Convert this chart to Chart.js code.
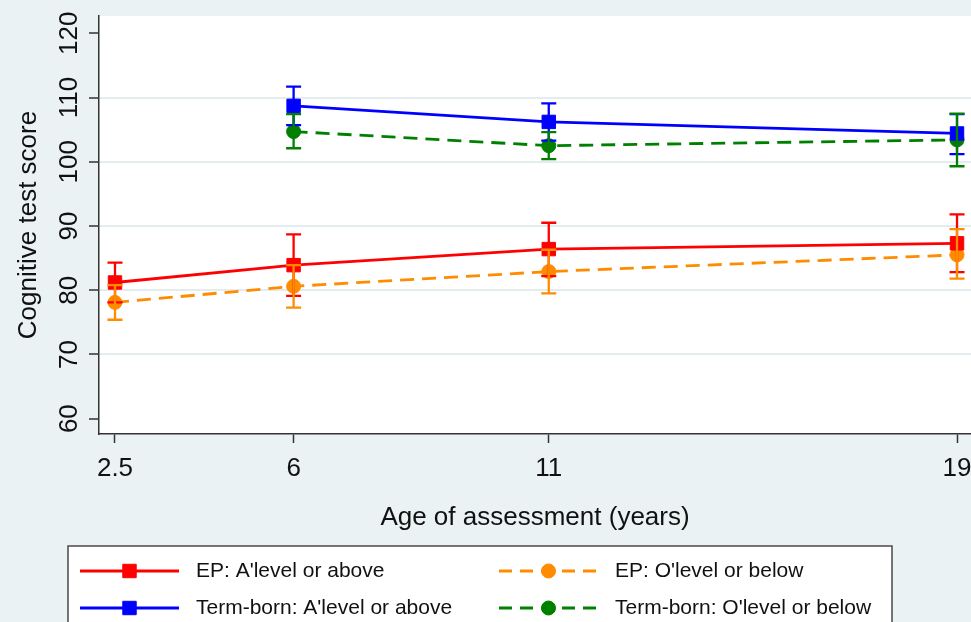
<!DOCTYPE html>
<html>
<head>
<meta charset="utf-8">
<script src="https://cdn.jsdelivr.net/npm/chart.js@4.4.1/dist/chart.umd.min.js"></script>
<style>
  html, body { margin: 0; padding: 0; background: #eaf2f3; }
  canvas { display: block; }
</style>
</head>
<body>
<canvas id="chart" width="971" height="622"></canvas>
<script>
// Assessment ages (years) and axis ticks
const ages = [2.5, 6, 11, 19];
const xTickValues = [2.5, 6, 11, 19];
const xTickLabels = ['2.5', '6', '11', '19'];
const yTickValues = [60, 70, 80, 90, 100, 110, 120];

// Series names
const seriesLabels = [
  "EP: A'level or above",
  "EP: O'level or below",
  "Term-born: A'level or above",
  "Term-born: O'level or below"
];

// Mean cognitive score with 95% interval, per age (null = not assessed)
const epAbove      = [81.2, 83.9, 86.4, 87.3];
const epAboveLow   = [78.1, 79.1, 82.2, 82.8];
const epAboveHigh  = [84.3, 88.7, 90.5, 91.8];

const epBelow      = [78.1, 80.6, 82.9, 85.5];
const epBelowLow   = [75.4, 77.3, 79.5, 81.8];
const epBelowHigh  = [80.8, 83.9, 86.3, 89.5];

const termAbove     = [null, 108.7, 106.2, 104.4];
const termAboveLow  = [null, 105.7, 103.3, 101.2];
const termAboveHigh = [null, 111.7, 109.1, 107.4];

const termBelow     = [null, 104.7, 102.5, 103.4];
const termBelowLow  = [null, 102.1, 100.4, 99.3];
const termBelowHigh = [null, 107.4, 104.6, 107.5];

const FONT = '"Liberation Sans", Arial, sans-serif';

function points(mean, low, high) {
  const out = [];
  ages.forEach((a, i) => {
    if (mean[i] !== null) out.push({ x: a, y: mean[i], lo: low[i], hi: high[i] });
  });
  return out;
}

function series(label, mean, low, high, color, dash, style, radius) {
  return {
    label,
    data: points(mean, low, high),
    borderColor: color,
    backgroundColor: color,
    borderWidth: 2.8,
    borderDash: dash,
    pointStyle: style,
    pointRadius: radius,
    pointHoverRadius: radius,
    pointBackgroundColor: color,
    pointBorderColor: color,
    pointBorderWidth: 1,
    tension: 0,
    fill: false
  };
}

const datasets = [
  series(seriesLabels[0], epAbove, epAboveLow, epAboveHigh, '#ff0000', [], 'rect', 9.5),
  series(seriesLabels[1], epBelow, epBelowLow, epBelowHigh, '#ff8c00', [14, 8], 'circle', 7),
  series(seriesLabels[2], termAbove, termAboveLow, termAboveHigh, '#0000ff', [], 'rect', 9.5),
  series(seriesLabels[3], termBelow, termBelowLow, termBelowHigh, '#008000', [14, 8], 'circle', 7)
];

// Grey page with a white plotting region
const backgroundPlugin = {
  id: 'regionBackground',
  beforeDraw(chart) {
    const { ctx, chartArea: a } = chart;
    ctx.save();
    ctx.fillStyle = '#eaf2f3';
    ctx.fillRect(0, 0, chart.width, chart.height);
    ctx.fillStyle = '#ffffff';
    ctx.fillRect(a.left, a.top, a.right - a.left, a.bottom - a.top);
    ctx.restore();
  }
};

// Capped confidence-interval bars for every point
const errorBarPlugin = {
  id: 'errorBars',
  afterDatasetsDraw(chart) {
    const { ctx, scales: { x, y } } = chart;
    const cap = 7.5;
    ctx.save();
    chart.data.datasets.forEach(ds => {
      ctx.strokeStyle = ds.borderColor;
      ctx.lineWidth = 2.3;
      ctx.setLineDash([]);
      ds.data.forEach(p => {
        const px = x.getPixelForValue(p.x);
        const yl = y.getPixelForValue(p.lo);
        const yh = y.getPixelForValue(p.hi);
        ctx.beginPath();
        ctx.moveTo(px, yl); ctx.lineTo(px, yh);
        ctx.moveTo(px - cap, yl); ctx.lineTo(px + cap, yl);
        ctx.moveTo(px - cap, yh); ctx.lineTo(px + cap, yh);
        ctx.stroke();
      });
    });
    ctx.restore();
  }
};

// Boxed two-column legend: line sample with marker, then label
const boxLegendPlugin = {
  id: 'boxLegend',
  afterDraw(chart) {
    const ctx = chart.ctx;
    const colX = [80, 499];
    const rowY = [571, 608];
    const sampleLen = 99;
    ctx.save();
    ctx.fillStyle = '#ffffff';
    ctx.strokeStyle = '#4a4a4a';
    ctx.lineWidth = 1.5;
    ctx.fillRect(68, 546, 824, 120);
    ctx.strokeRect(68, 546, 824, 120);
    chart.data.datasets.forEach((ds, i) => {
      const x0 = colX[i % 2];
      const yc = rowY[Math.floor(i / 2)];
      ctx.strokeStyle = ds.borderColor;
      ctx.lineWidth = ds.borderWidth;
      ctx.setLineDash(ds.borderDash.length ? [13, 8] : []);
      ctx.beginPath();
      ctx.moveTo(x0, yc);
      ctx.lineTo(x0 + sampleLen, yc);
      ctx.stroke();
      ctx.setLineDash([]);
      const mx = x0 + sampleLen / 2;
      ctx.fillStyle = ds.borderColor;
      ctx.beginPath();
      if (ds.pointStyle === 'rect') {
        const s = Math.SQRT1_2 * ds.pointRadius;
        ctx.rect(mx - s, yc - s, 2 * s, 2 * s);
      } else {
        ctx.arc(mx, yc, ds.pointRadius, 0, Math.PI * 2);
      }
      ctx.fill();
      ctx.lineWidth = 1;
      ctx.stroke();
      ctx.fillStyle = '#111';
      ctx.font = '21px ' + FONT;
      ctx.textBaseline = 'middle';
      ctx.textAlign = 'left';
      ctx.fillText(ds.label, x0 + 116, yc);
    });
    ctx.restore();
  }
};

new Chart(document.getElementById('chart'), {
  type: 'line',
  data: { datasets },
  options: {
    responsive: false,
    animation: false,
    devicePixelRatio: 1,
    layout: { autoPadding: false, padding: { top: 16, right: 0, bottom: 58, left: 0 } },
    plugins: {
      legend: { display: false },
      tooltip: { enabled: false }
    },
    events: [],
    scales: {
      x: {
        type: 'linear',
        min: 2.1865,
        max: 19.274,
        afterBuildTicks: s => { s.ticks = xTickValues.map(v => ({ value: v })); },
        afterFit: s => { s.height = 130; s.paddingRight = 0; s.paddingLeft = 0; },
        grid: { drawOnChartArea: false, drawTicks: true, tickLength: 9, tickColor: '#333', tickWidth: 1.5 },
        border: { display: true, color: '#333', width: 1.5 },
        ticks: {
          autoSkip: false,
          minRotation: 0,
          maxRotation: 0,
          padding: 10,
          color: '#111',
          font: { family: FONT, size: 26 },
          callback: v => {
            const k = xTickValues.indexOf(v);
            return k >= 0 ? xTickLabels[k] : '';
          }
        },
        title: {
          display: true,
          text: 'Age of assessment (years)',
          color: '#111',
          font: { family: FONT, size: 26 },
          padding: { top: 0, bottom: 31 }
        }
      },
      y: {
        type: 'linear',
        min: 57.61,
        max: 122.69,
        afterBuildTicks: s => { s.ticks = yTickValues.map(v => ({ value: v })); },
        afterFit: s => { s.width = 99; },
        grid: {
          color: c => (c.tick && (c.tick.value === 60 || c.tick.value === 120)) ? 'rgba(0,0,0,0)' : '#e3ecee',
          lineWidth: 2,
          drawTicks: true,
          tickLength: 10,
          tickColor: '#333',
          tickWidth: 1.5
        },
        border: { display: true, color: '#333', width: 1.5 },
        ticks: {
          autoSkip: false,
          minRotation: 90,
          maxRotation: 90,
          crossAlign: 'center',
          padding: -3,
          color: '#111',
          font: { family: FONT, size: 26 },
          callback: v => String(v)
        },
        title: {
          display: true,
          text: 'Cognitive test score',
          color: '#111',
          font: { family: FONT, size: 26 },
          padding: { top: 13, bottom: 0 }
        }
      }
    }
  },
  plugins: [backgroundPlugin, errorBarPlugin, boxLegendPlugin]
});
</script>
</body>
</html>
